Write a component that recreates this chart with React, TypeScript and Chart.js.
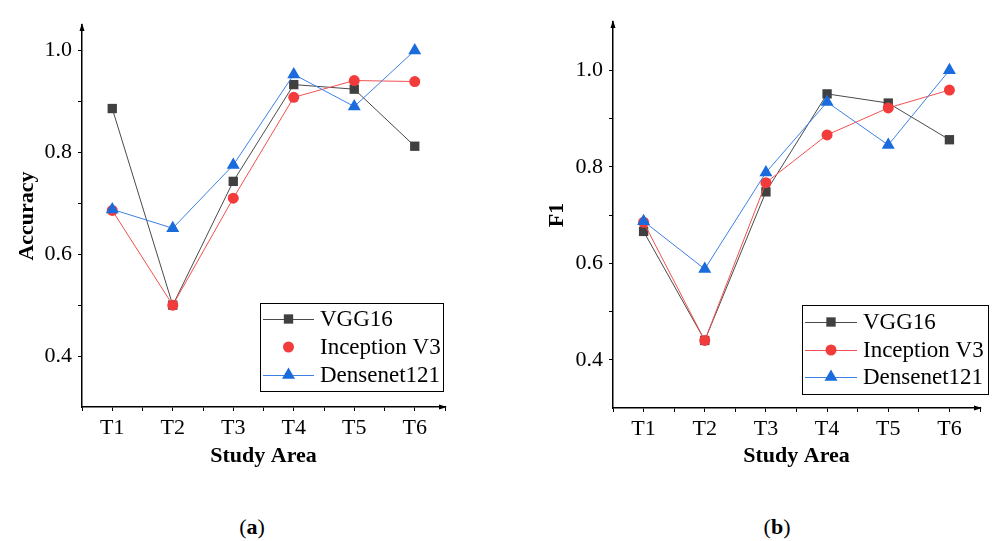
import React, { useEffect, useRef } from 'react';
import { Chart, registerables } from 'chart.js';

Chart.register(...registerables);

const categories = ['T1', 'T2', 'T3', 'T4', 'T5', 'T6'];
const seriesNames = ['VGG16', 'Inception V3', 'Densenet121'];

const accVGG16 = [0.886, 0.5, 0.743, 0.933, 0.924, 0.812];
const accInception = [0.686, 0.5, 0.71, 0.908, 0.941, 0.939];
const accDensenet = [0.688, 0.651, 0.775, 0.953, 0.89, 1.0];

const f1VGG16 = [0.666, 0.44, 0.748, 0.951, 0.932, 0.856];
const f1Inception = [0.685, 0.44, 0.767, 0.866, 0.922, 0.959];
const f1Densenet = [0.687, 0.588, 0.788, 0.934, 0.845, 1.0];

const yTickValues = [0.4, 0.5, 0.6, 0.7, 0.8, 0.9, 1.0];
const yTickLabels = ['0.4', '0.6', '0.8', '1.0'];

const FONT = "'Liberation Serif', 'Times New Roman', serif";

const seriesStyles = [
  { pointStyle: 'rect', radius: 6.6, fill: '#404040', line: '#4a4a4a' },
  { pointStyle: 'circle', radius: 5.5, fill: '#f23c3c', line: '#f25050' },
  { pointStyle: 'triangle', radius: 7.5, fill: '#1a6bdc', line: '#3d80e2' },
];

function drawMarker(ctx: CanvasRenderingContext2D, style: string, r: number, x: number, y: number, color: string) {
  ctx.fillStyle = color;
  ctx.beginPath();
  if (style === 'rect') {
    const s = Math.SQRT1_2 * r;
    ctx.rect(x - s, y - s, 2 * s, 2 * s);
  } else if (style === 'circle') {
    ctx.arc(x, y, r, 0, Math.PI * 2);
  } else {
    const a0 = -Math.PI / 2;
    for (let k = 0; k < 3; k++) {
      const a = a0 + (k * 2 * Math.PI) / 3;
      const px = x + Math.cos(a) * r;
      const py = y + Math.sin(a) * r;
      if (k === 0) ctx.moveTo(px, py);
      else ctx.lineTo(px, py);
    }
    ctx.closePath();
  }
  ctx.fill();
}

const arrowPlugin = {
  id: 'axisArrows',
  afterDraw(chart: any) {
    const { ctx, chartArea } = chart;
    ctx.save();
    ctx.fillStyle = '#000';
    ctx.beginPath();
    ctx.moveTo(chartArea.left, chartArea.top - 2);
    ctx.lineTo(chartArea.left - 2.5, chartArea.top + 6);
    ctx.lineTo(chartArea.left + 2.5, chartArea.top + 6);
    ctx.closePath();
    ctx.fill();
    ctx.beginPath();
    ctx.moveTo(chartArea.right + 2, chartArea.bottom);
    ctx.lineTo(chartArea.right - 6, chartArea.bottom - 2.5);
    ctx.lineTo(chartArea.right - 6, chartArea.bottom + 2.5);
    ctx.closePath();
    ctx.fill();
    ctx.restore();
  },
};

const boxLegendPlugin = {
  id: 'boxLegend',
  afterDraw(chart: any, _args: any, opts: any) {
    const { ctx } = chart;
    const { x, y, w, h, rows, lineX1, lineX2, textX, showLine } = opts;
    ctx.save();
    ctx.fillStyle = '#fff';
    ctx.fillRect(x, y, w, h);
    ctx.strokeStyle = '#000';
    ctx.lineWidth = 1;
    ctx.strokeRect(x + 0.5, y + 0.5, w, h);
    chart.data.datasets.forEach((ds: any, i: number) => {
      const ry = rows[i];
      const st = seriesStyles[i];
      if (showLine[i]) {
        ctx.strokeStyle = st.line;
        ctx.lineWidth = 1;
        ctx.beginPath();
        ctx.moveTo(lineX1, ry + 0.5);
        ctx.lineTo(lineX2, ry + 0.5);
        ctx.stroke();
      }
      drawMarker(ctx, st.pointStyle, st.radius, (lineX1 + lineX2) / 2, ry, st.fill);
      ctx.fillStyle = '#000';
      ctx.font = `23px ${FONT}`;
      ctx.textBaseline = 'middle';
      ctx.textAlign = 'left';
      ctx.fillText(ds.label, textX, ry + 1);
    });
    ctx.restore();
  },
};

function makeDatasets(series: number[][]) {
  return series.map((vals, i) => {
    const st = seriesStyles[i];
    return {
      label: seriesNames[i],
      data: vals.map((v, j) => ({ x: j + 1, y: v })),
      borderColor: st.line,
      borderWidth: 1,
      backgroundColor: st.fill,
      pointStyle: st.pointStyle,
      pointRadius: st.radius,
      pointBackgroundColor: st.fill,
      pointBorderColor: st.fill,
      pointBorderWidth: 0,
      tension: 0,
      order: 3 - i,
      clip: false,
    };
  });
}

function makeOptions(p: any) {
  return {
    responsive: false,
    animation: false,
    devicePixelRatio: 1,
    layout: { padding: { left: 0, top: p.top, right: p.right, bottom: 0 } },
    plugins: {
      legend: { display: false },
      tooltip: { enabled: false },
      boxLegend: p.legend,
    },
    scales: {
      x: {
        type: 'linear',
        min: 0.5,
        max: categories.length + 0.5,
        afterBuildTicks: (scale: any) => {
          const t: any[] = [];
          for (let i = 0; i <= categories.length; i++) {
            t.push({ value: i + 0.5 });
            if (i < categories.length) t.push({ value: i + 1 });
          }
          scale.ticks = t;
        },
        afterFit: (scale: any) => {
          scale.height = 64;
        },
        ticks: {
          autoSkip: false,
          maxRotation: 0,
          padding: 4,
          color: '#000',
          font: { family: FONT, size: 22 },
          callback: (v: number) => (Number.isInteger(v) ? categories[v - 1] : ''),
        },
        grid: { display: true, drawOnChartArea: false, drawTicks: true, tickLength: 4, tickColor: '#000', tickWidth: 1 },
        border: { display: true, color: '#000', width: 1.5 },
        title: {
          display: true,
          text: 'Study Area',
          color: '#000',
          font: { family: FONT, size: 22, weight: 'bold' },
          padding: { top: 0, bottom: p.xTitlePad },
        },
      },
      y: {
        type: 'linear',
        min: 0.3,
        max: p.yMax,
        afterBuildTicks: (scale: any) => {
          scale.ticks = yTickValues.map((v) => ({ value: v }));
        },
        afterFit: (scale: any) => {
          scale.width = p.yWidth;
        },
        ticks: {
          autoSkip: false,
          padding: 6,
          color: '#000',
          font: { family: FONT, size: 22 },
          callback: (v: number) => {
            const s = Number(v).toFixed(1);
            return yTickLabels.includes(s) ? s : '';
          },
        },
        grid: { display: true, drawOnChartArea: false, drawTicks: true, tickLength: 4, tickColor: '#000', tickWidth: 1 },
        border: { display: true, color: '#000', width: 1.5 },
        title: {
          display: true,
          text: p.yTitle,
          color: '#000',
          font: { family: FONT, size: 22, weight: 'bold' },
          padding: { top: p.yTitlePad, bottom: 0 },
        },
      },
    },
  };
}

function LineChart(props: { series: number[][]; opts: any; width: number; height: number }) {
  const ref = useRef<HTMLCanvasElement | null>(null);
  useEffect(() => {
    if (!ref.current) return;
    const chart = new Chart(ref.current, {
      type: 'line',
      data: { datasets: makeDatasets(props.series) as any },
      options: makeOptions(props.opts) as any,
      plugins: [arrowPlugin, boxLegendPlugin],
    });
    return () => chart.destroy();
  }, []);
  return <canvas ref={ref} width={props.width} height={props.height} style={{ display: 'block' }} />;
}

export default function App() {
  const leftOpts = {
    top: 25,
    right: 51,
    yMax: 1.05,
    yWidth: 82,
    yTitle: 'Accuracy',
    yTitlePad: 14,
    xTitlePad: 1,
    legend: {
      x: 260, y: 303, w: 183, h: 88,
      rows: [319, 347, 375],
      lineX1: 263, lineX2: 314, textX: 320,
      showLine: [true, false, true],
    },
  };
  const rightOpts = {
    top: 22,
    right: 13,
    yMax: 1.1,
    yWidth: 113,
    yTitle: 'F1',
    yTitlePad: 44,
    xTitlePad: 2,
    legend: {
      x: 302, y: 305, w: 186, h: 89,
      rows: [322, 350, 377],
      lineX1: 305, lineX2: 357, textX: 363,
      showLine: [true, true, true],
    },
  };
  const caption: React.CSSProperties = {
    position: 'absolute',
    top: 514,
    width: 60,
    textAlign: 'center',
    fontFamily: FONT,
    fontSize: 22,
    lineHeight: '26px',
    color: '#000',
  };
  return (
    <div style={{ position: 'fixed', left: 0, top: 0, width: 993, height: 541, background: '#fff', overflow: 'hidden' }}>
      <div style={{ position: 'absolute', left: 0, top: 0 }}>
        <LineChart series={[accVGG16, accInception, accDensenet]} opts={leftOpts} width={496} height={471} />
      </div>
      <div style={{ position: 'absolute', left: 500, top: 0 }}>
        <LineChart series={[f1VGG16, f1Inception, f1Densenet]} opts={rightOpts} width={493} height={472} />
      </div>
      <div style={{ ...caption, left: 222 }}>(<b>a</b>)</div>
      <div style={{ ...caption, left: 747 }}>(<b>b</b>)</div>
    </div>
  );
}
